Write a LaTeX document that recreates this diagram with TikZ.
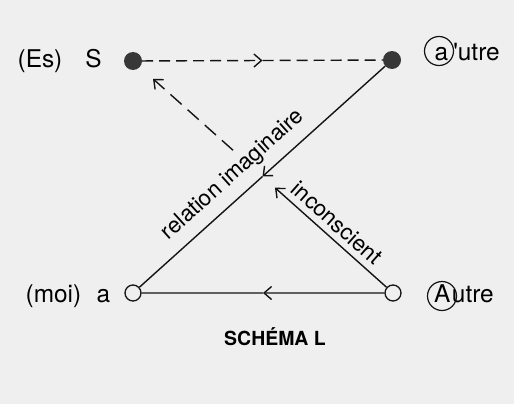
\documentclass[tikz,border=0pt]{standalone}
\usepackage{fontspec}
\setmainfont{TeX Gyre Heros}
\usetikzlibrary{calc,arrows.meta}
\definecolor{paper}{RGB}{239,239,239}
\definecolor{ink}{RGB}{20,20,20}

\begin{document}
\begin{tikzpicture}[x=1bp,y=1bp,
  full/.style={circle,fill=ink!85,inner sep=0pt,minimum size=18bp},
  empty/.style={circle,draw=ink,line width=1.3bp,fill=paper,inner sep=0pt,minimum size=16bp},
  ring/.style={circle,draw=ink,line width=1.2bp,inner sep=0pt,minimum size=29bp},
  lbl/.style={font=\fontsize{24.5}{28}\selectfont,inner sep=0pt},
  onlink/.style={font=\fontsize{22.5}{26}\selectfont,inner sep=0pt},
  link/.style={draw=ink,line width=1.4bp},
  tip/.style={-{Straight Barb[length=7.5bp,width=13bp]}}]
  \useasboundingbox[fill=paper] (0,0) rectangle (514,404);

  %% The four places of the schema
  \node[full]  (S)     at (133,343) {};
  \node[full]  (autre) at (392,344) {};
  \node[empty] (moi)   at (133,111) {};
  \node[empty] (Autre) at (393,111) {};

  %% Names of the places
  \node[lbl,anchor=base] (Es) at (40,337)   {(Es)};
  \node[lbl,anchor=base] (SS) at (93.5,337) {S};
  \node[lbl,anchor=base] (MO) at (53.5,102) {(moi)};
  \node[lbl,anchor=base] (ma) at (103.5,102) {a};
  \node[lbl,anchor=base west] (ua) at (434.5,344) {a\kern5bp\textquotesingle utre};
  \node[ring] (ra) at (439,353) {};
  \node[lbl,anchor=base west] (uA) at (434,102) {A\kern1.5bp utre};
  \node[ring] (rA) at (442,108) {};

  %% Links with their arrows in the middle
  \draw[link,dash pattern=on 11bp off 6bp,tip] (S) -- ($(S)!0.5!(autre)$);
  \draw[link,dash pattern=on 11bp off 6bp] ($(S)!0.5!(autre)$) -- (autre);
  \draw[link,tip] (autre) -- ($(autre)!0.5!(moi)$);
  \draw[link] ($(autre)!0.5!(moi)$) -- (moi);
  \draw[link,tip] (Autre) -- ($(Autre)!0.5!(moi)$);
  \draw[link] ($(Autre)!0.5!(moi)$) -- (moi);

  %% Autre to S, broken by the imaginary relation
  \coordinate (cut1) at ($(Autre)!0.454!(S)$);
  \coordinate (cut2) at ($(Autre)!0.615!(S)$);
  \coordinate (cut3) at ($(Autre)!0.923!(S)$);
  \draw[link,tip] (Autre) -- (cut1);
  \draw[link,dash pattern=on 15bp off 8bp,tip] (cut2) -- (cut3);

  %% Labels on the links
  \node[onlink,rotate=42]  (rel) at (233,229) {relation imaginaire};
  \node[onlink,rotate=-41.7] (inc) at (337,181) {inconscient};

  \node[font=\fontsize{19.5}{22}\selectfont\bfseries,anchor=base,inner sep=0pt] (title)
    at (275,59) {SCHÉMA L};
\end{tikzpicture}
\end{document}
